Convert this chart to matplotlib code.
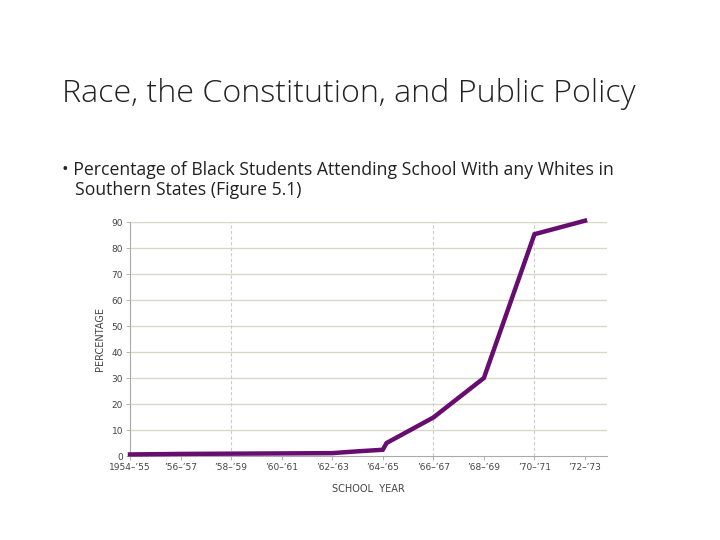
import matplotlib
matplotlib.use("Agg")
import matplotlib.pyplot as plt

# Data
years = [1954, 1956, 1958, 1960, 1962, 1963, 1964, 1964.15, 1966, 1968, 1970, 1972]
percent = [0.6, 0.8, 0.9, 1.0, 1.1, 1.8, 2.4, 5.0, 14.8, 30.0, 85.3, 90.5]
tick_years = [1954, 1956, 1958, 1960, 1962, 1964, 1966, 1968, 1970, 1972]
tick_labels = ["1954\u2013\u201955", "\u201956\u2013\u201957", "\u201958\u2013\u201959", "\u201960\u2013\u201961",
               "\u201962\u2013\u201963", "\u201964\u2013\u201965", "\u201966\u2013\u201967", "\u201968\u2013\u201969",
               "\u201970\u2013\u201971", "\u201972\u2013\u201973"]
y_ticks = [0, 10, 20, 30, 40, 50, 60, 70, 80, 90]
dashed_years = [1958, 1966, 1970]

W, H = 720, 540
fig = plt.figure(figsize=(7.2, 5.4), dpi=100)
fig.patch.set_facecolor("white")

fig.text(62 / W, 1 - 94 / H, "Race, the Constitution, and Public Policy",
         fontsize=23.2, family="Open Sans", color="#222222", va="center", ha="left", fontweight="light")
fig.text(62 / W, 1 - 170 / H, "\u2022 Percentage of Black Students Attending School With any Whites in",
         fontsize=12.7, family="Open Sans", color="#222222", va="center", ha="left")
fig.text(75 / W, 1 - 190 / H, "Southern States (Figure 5.1)",
         fontsize=12.7, family="Open Sans", color="#222222", va="center", ha="left")

left, right, top, bottom = 130, 607, 222, 456
ax = fig.add_axes([left / W, 1 - bottom / H, (right - left) / W, (bottom - top) / H])
ax.set_xlim(1954, 1954 + 18 * (right - left) / (585 - 130))
ax.set_ylim(0, 90)

for y in y_ticks[1:]:
    ax.axhline(y, color="#d8d8c8", lw=1, zorder=1)
for x in dashed_years:
    ax.axvline(x, color="#cccccc", lw=0.8, ls=(0, (3, 2)), zorder=1)

ax.plot(years, percent, color="#670d70", lw=3.2, solid_joinstyle="miter", zorder=3, clip_on=False)

for s in ["top", "right"]:
    ax.spines[s].set_visible(False)
for s in ["left", "bottom"]:
    ax.spines[s].set_color("#aaaaaa")
    ax.spines[s].set_linewidth(0.8)

ax.set_xticks(tick_years)
ax.set_xticklabels(tick_labels, fontsize=6.5, color="#444444")
ax.set_yticks(y_ticks)
ax.set_yticklabels([str(v) for v in y_ticks], fontsize=6.5, color="#444444")
ax.tick_params(length=3, color="#aaaaaa", width=0.6, pad=2)
ax.set_ylabel("PERCENTAGE", fontsize=7, color="#444444", labelpad=5)
ax.set_xlabel("SCHOOL  YEAR", fontsize=7, color="#444444", labelpad=9)

fig.savefig("out.png", dpi=100, facecolor="white")
